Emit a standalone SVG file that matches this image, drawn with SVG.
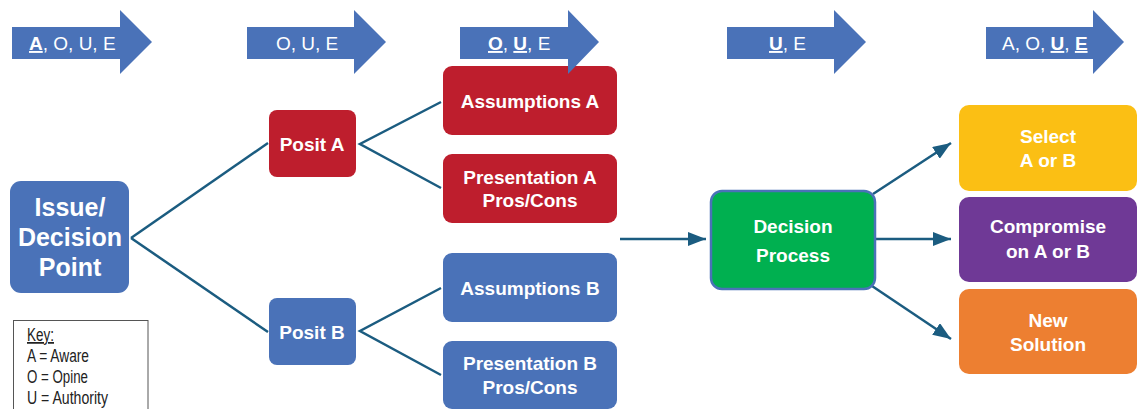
<svg xmlns="http://www.w3.org/2000/svg" width="1138" height="409" viewBox="0 0 1138 409">
<defs>
<style>
.hdr{fill:#4A72B8}
.ht{font-family:"Liberation Sans",Arial,sans-serif;font-size:19px;fill:#fff}
.u{font-weight:bold;text-decoration:underline}
.nt{font-family:"Liberation Sans",Arial,sans-serif;font-size:19px;font-weight:bold;fill:#fff;text-anchor:middle}
.blue{fill:#4A72B8}
.red{fill:#BE1E2D}
.con{fill:none;stroke:#1B5C80;stroke-width:2.5}
.key{font-family:"Liberation Sans",Arial,sans-serif;font-size:17.5px;fill:#222}
</style>
<marker id="ah" markerUnits="userSpaceOnUse" markerWidth="18" markerHeight="14" viewBox="0 0 18 14" refX="18" refY="7" orient="auto">
<path d="M0,0 L18,7 L0,14 z" fill="#1B5C80"/>
</marker>
</defs>
<rect width="1138" height="409" fill="#fff"/>

<g id="connectors">
<path class="con" d="M131,238 L268,143"/>
<path class="con" d="M131,238 L268,332"/>
<path class="con" d="M441,102 L360,144 L441,188"/>
<path class="con" d="M441,288 L360,331 L441,375"/>
<path class="con" d="M620,239 L706,239" marker-end="url(#ah)"/>
<path class="con" d="M875,239 L951,239" marker-end="url(#ah)"/>
<path class="con" d="M873,194 L951,143" marker-end="url(#ah)"/>
<path class="con" d="M872,286 L951,339" marker-end="url(#ah)"/>
</g>

<g id="issue">
<rect class="blue" x="10" y="181" width="119" height="112" rx="11"/>
<text class="nt" style="font-size:25px" x="70" y="216">Issue/</text>
<text class="nt" style="font-size:25px" x="70" y="246">Decision</text>
<text class="nt" style="font-size:25px" x="70" y="276">Point</text>
</g>

<g id="positA">
<rect class="red" x="269" y="110" width="87" height="67" rx="8"/>
<text class="nt" x="312" y="151">Posit A</text>
</g>
<g id="assumptionsA">
<rect class="red" x="443" y="66" width="174" height="69" rx="9"/>
<text class="nt" x="530" y="108">Assumptions A</text>
</g>
<g id="presentationA">
<rect class="red" x="443" y="154" width="174" height="69" rx="9"/>
<text class="nt" x="530" y="184">Presentation A</text>
<text class="nt" x="530" y="207">Pros/Cons</text>
</g>

<g id="positB">
<rect class="blue" x="269" y="298" width="87" height="67" rx="8"/>
<text class="nt" x="312" y="339">Posit B</text>
</g>
<g id="assumptionsB">
<rect class="blue" x="443" y="253" width="174" height="69" rx="9"/>
<text class="nt" x="530" y="295">Assumptions B</text>
</g>
<g id="presentationB">
<rect class="blue" x="443" y="341" width="174" height="68" rx="9"/>
<text class="nt" x="530" y="370">Presentation B</text>
<text class="nt" x="530" y="394">Pros/Cons</text>
</g>

<g id="decision">
<rect x="711" y="191" width="164" height="98" rx="11" fill="#00B050" stroke="#4A72B8" stroke-width="2.5"/>
<text class="nt" x="793" y="233">Decision</text>
<text class="nt" x="793" y="262">Process</text>
</g>

<g id="select">
<rect x="959" y="105" width="178" height="86" rx="10" fill="#FBBF14"/>
<text class="nt" x="1048" y="143">Select</text>
<text class="nt" x="1048" y="167">A or B</text>
</g>
<g id="compromise">
<rect x="959" y="197" width="178" height="85" rx="10" fill="#6F3996"/>
<text class="nt" x="1048" y="233">Compromise</text>
<text class="nt" x="1048" y="258">on A or B</text>
</g>
<g id="newsolution">
<rect x="959" y="289" width="178" height="85" rx="10" fill="#ED7F31"/>
<text class="nt" x="1048" y="327">New</text>
<text class="nt" x="1048" y="351">Solution</text>
</g>

<g id="header1">
<polygon class="hdr" points="12,27 120,27 120,10 152,42 120,74 120,59 12,59"/>
<text class="ht" x="29" y="50"><tspan class="u">A</tspan>, O, U, E</text>
</g>
<g id="header2">
<polygon class="hdr" points="247,27 354,27 354,10 386,42 354,74 354,59 247,59"/>
<text class="ht" x="276" y="50">O, U, E</text>
</g>
<g id="header3">
<polygon class="hdr" points="460,27 568,27 568,10 599,42 568,74 568,59 460,59"/>
<text class="ht" x="488" y="50"><tspan class="u">O</tspan>, <tspan class="u">U</tspan>, E</text>
</g>
<g id="header4">
<polygon class="hdr" points="727,27 834,27 834,10 866,42 834,74 834,59 727,59"/>
<text class="ht" x="769" y="50"><tspan class="u">U</tspan>, E</text>
</g>
<g id="header5">
<polygon class="hdr" points="986,27 1093,27 1093,10 1124,42 1093,74 1093,59 986,59"/>
<text class="ht" x="1002" y="50">A, O, <tspan class="u">U</tspan>, <tspan class="u">E</tspan></text>
</g>

<g id="key">
<rect x="13.5" y="320.5" width="134.5" height="100" fill="#fff" stroke="#555" stroke-width="1"/>
<text class="key" x="27" y="341" textLength="27" lengthAdjust="spacingAndGlyphs" style="text-decoration:underline">Key:</text>
<text class="key" x="27" y="362" textLength="62" lengthAdjust="spacingAndGlyphs">A = Aware</text>
<text class="key" x="27" y="383" textLength="61" lengthAdjust="spacingAndGlyphs">O = Opine</text>
<text class="key" x="27" y="404" textLength="81" lengthAdjust="spacingAndGlyphs">U = Authority</text>
</g>
</svg>
